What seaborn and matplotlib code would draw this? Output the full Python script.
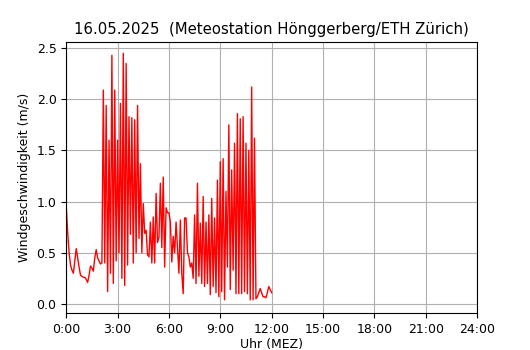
import numpy as np
import pandas as pd
import seaborn as sns
import matplotlib.pyplot as plt

# 5-minute wind speed samples (m/s), one row per hour, 0:00 .. 12:00
wind_speed = [
    0.95, 0.70, 0.50, 0.38, 0.33, 0.30, 0.42, 0.54, 0.45, 0.36, 0.28, 0.27,
    0.26, 0.26, 0.24, 0.21, 0.28, 0.37, 0.35, 0.32, 0.45, 0.53, 0.45, 0.42,
    0.39, 0.40, 2.09, 0.40, 1.94, 0.12, 1.60, 0.30, 2.43, 0.20, 2.09, 0.42,
    1.60, 0.50, 1.96, 0.25, 2.45, 0.18, 2.35, 0.38, 1.83, 0.68, 1.82, 0.40,
    1.80, 0.50, 1.94, 0.64, 1.37, 0.50, 0.98, 0.69, 0.72, 0.48, 0.46, 0.80,
    0.40, 0.85, 0.40, 1.08, 0.60, 0.65, 1.18, 0.55, 1.24, 0.36, 0.94, 0.89,
    0.89, 0.80, 0.41, 0.66, 0.50, 0.80, 0.55, 0.30, 0.82, 0.30, 0.10, 0.84,
    0.84, 0.50, 0.46, 0.36, 0.40, 0.25, 0.87, 0.20, 1.18, 0.27, 0.79, 0.20,
    1.05, 0.17, 0.80, 0.20, 0.87, 0.09, 1.03, 0.17, 0.84, 0.11, 1.21, 0.07,
    1.39, 0.12, 1.42, 0.04, 1.10, 0.36, 1.75, 0.14, 1.31, 0.33, 1.57, 0.10,
    1.86, 0.10, 1.81, 0.10, 1.83, 0.12, 1.57, 0.10, 1.50, 0.04, 2.12, 0.04,
    1.62, 0.05, 0.07, 0.11, 0.15, 0.11, 0.07, 0.07, 0.06, 0.11, 0.17, 0.14,
    0.11,
]
minutes = np.arange(len(wind_speed)) * 5

hour_ticks = [0, 3, 6, 9, 12, 15, 18, 21, 24]
hour_labels = ["0:00", "3:00", "6:00", "9:00", "12:00", "15:00", "18:00", "21:00", "24:00"]
y_ticks = [0.0, 0.5, 1.0, 1.5, 2.0, 2.5]

title = "16.05.2025  (Meteostation Hönggerberg/ETH Zürich)"


def main():
    df = pd.DataFrame({"hour": minutes / 60, "speed": wind_speed})

    fig, ax = plt.subplots(figsize=(5.3, 3.5), dpi=100)
    sns.lineplot(data=df, x="hour", y="speed", color="red", linewidth=1, ax=ax)

    ax.set_xlim(0, 24)
    ax.set_ylim(-0.088, 2.56)
    ax.set_xticks(hour_ticks)
    ax.set_xticklabels(hour_labels)
    ax.set_yticks(y_ticks)
    ax.grid(True, color="#b0b0b0", linewidth=0.8)
    ax.set_axisbelow(True)

    ax.set_title(title, fontsize=10.7)
    ax.set_xlabel("Uhr (MEZ)", fontsize=9, labelpad=1.5)
    ax.set_ylabel("Windgeschwindigkeit (m/s)", fontsize=9)
    ax.tick_params(labelsize=9)

    fig.subplots_adjust(left=0.125, right=0.9, bottom=0.106, top=0.88)
    fig.savefig("out.png", dpi=100)


if __name__ == "__main__":
    main()
